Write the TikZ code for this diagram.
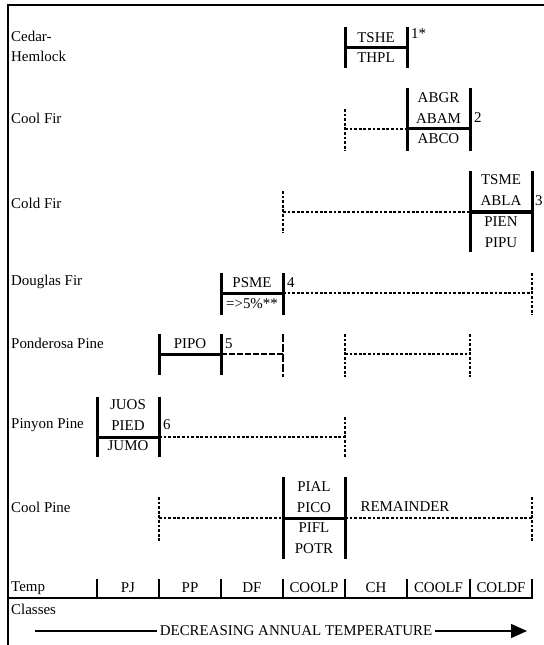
\documentclass[tikz,border=0pt]{standalone}
\usepackage{fontspec}
\setmainfont{Liberation Serif}
\usetikzlibrary{arrows.meta, positioning}

\begin{document}
\begin{tikzpicture}[
        x=1bp, y=-1bp,
        font=\fontsize{15}{20.5}\selectfont,
        frame_line/.style = {line width=1.8bp},
        sp_bar/.style = {line width=3bp},
        sp_range/.style = {line width=2.8bp, dash pattern=on 2.8bp off 1.8bp},
        sp_dash/.style = {line width=2.8bp, dash pattern=on 6bp off 2bp},
        sp_dash_long/.style = {line width=2.8bp, dash pattern=on 8bp off 2bp},
        tick_line/.style = {line width=2.2bp},
        row_label/.style = {anchor=west, align=left, inner sep=0pt},
        code_text/.style = {align=center, inner sep=0pt},
        num_text/.style = {anchor=west, inner sep=0pt}
    ]
    \useasboundingbox (0,0) rectangle (544,645);

    % Frame
    \coordinate (frame_bottom) at (8,645);
    \coordinate (frame_corner) at (8,5);
    \coordinate (frame_right) at (544,5);
    \draw [frame_line] (frame_bottom) -- (frame_corner) -- (frame_right);

    % Cedar-Hemlock
    \node [row_label] (ch_label) at (11,46.5) {Cedar-\\Hemlock};
    \node [code_text] (ch_codes) at (376,47.5) {TSHE\\THPL};
    \draw [sp_bar] (345,27) -- (345,68);
    \draw [sp_bar] (407,27) -- (407,68);
    \draw [sp_bar] (345,48) -- (407,48);
    \node [num_text] (ch_num) at (411,34) {1*};

    % Cool Fir
    \node [row_label] (cf_label) at (11,118) {Cool Fir};
    \node [code_text] (cf_codes) at (438.5,118.5) {ABGR\\ABAM\\ABCO};
    \draw [sp_bar] (407,88) -- (407,151);
    \draw [sp_bar] (470,88) -- (470,151);
    \draw [sp_bar] (407,129) -- (470,129);
    \draw [sp_range] (345,109) -- (345,151);
    \draw [sp_range] (345,129) -- (407,129);
    \node [num_text] (cf_num) at (474,118) {2};

    % Cold Fir
    \node [row_label] (cdf_label) at (11,203) {Cold Fir};
    \node [code_text, font=\fontsize{15}{21}\selectfont] (cdf_codes) at (501,211) {TSME\\ABLA\\PIEN\\PIPU};
    \draw [sp_bar] (470,171) -- (470,252);
    \draw [sp_bar] (532,171) -- (532,252);
    \draw [sp_bar, line width=3.6bp] (470,212) -- (533,212);
    \draw [sp_range] (283,191) -- (283,233);
    \draw [sp_range] (283,212) -- (470,212);
    \node [num_text] (cdf_num) at (535,201) {3};

    % Douglas Fir
    \node [row_label] (df_label) at (11,282) {Douglas Fir};
    \node [code_text] (df_code) at (252,283) {PSME};
    \node [code_text] (df_share) at (252,304) {=>5\%**};
    \draw [sp_bar] (221,273) -- (221,315);
    \draw [sp_bar] (283,273) -- (283,315);
    \draw [sp_bar] (221,293) -- (283,293);
    \draw [sp_range] (283,293) -- (532,293);
    \draw [sp_range] (532,273) -- (532,315);
    \node [num_text] (df_num) at (287,283) {4};

    % Ponderosa Pine
    \node [row_label] (pp_label) at (11,343) {Ponderosa Pine};
    \node [code_text] (pp_code) at (190,344) {PIPO};
    \draw [sp_bar] (159,334) -- (159,375);
    \draw [sp_bar] (221,334) -- (221,375);
    \draw [sp_bar] (159,354) -- (221,354);
    \draw [sp_dash] (221,354) -- (283,354);
    \draw [sp_dash_long] (283,334) -- (283,377);
    \draw [sp_range] (345,334) -- (345,377);
    \draw [sp_range] (470,334) -- (470,377);
    \draw [sp_range] (345,354) -- (470,354);
    \node [num_text] (pp_num) at (225,344) {5};

    % Pinyon Pine
    \node [row_label] (pj_label) at (11,425) {Pinyon Pine};
    \node [code_text] (pj_codes) at (128,425.5) {JUOS\\PIED\\JUMO};
    \draw [sp_bar] (97,397) -- (97,457);
    \draw [sp_bar] (159,397) -- (159,457);
    \draw [sp_bar] (97,437) -- (159,437);
    \draw [sp_range] (159,437) -- (345,437);
    \draw [sp_range] (345,417) -- (345,457);
    \node [num_text] (pj_num) at (163,425) {6};

    % Cool Pine
    \node [row_label] (cp_label) at (11,507) {Cool Pine};
    \node [code_text] (cp_codes) at (314,517.5) {PIAL\\PICO\\PIFL\\POTR};
    \draw [sp_bar] (283,477) -- (283,559);
    \draw [sp_bar] (345,477) -- (345,559);
    \draw [sp_bar] (283,518) -- (345,518);
    \draw [sp_range] (159,518) -- (283,518);
    \draw [sp_range] (159,497) -- (159,542);
    \draw [sp_range] (345,518) -- (532,518);
    \draw [sp_range] (532,497) -- (532,542);
    \node [code_text] (cp_rest) at (405,507) {REMAINDER};

    % Temperature classes
    \node [row_label] (temp_label) at (11,588) {Temp};
    \node [row_label] (classes_label) at (11,609) {Classes};
    \draw [tick_line] (8,598) -- (533,598);
    \draw [tick_line] (97,579) -- (97,598);
    \draw [tick_line] (159,579) -- (159,598);
    \draw [tick_line] (221,579) -- (221,598);
    \draw [tick_line] (283,579) -- (283,598);
    \draw [tick_line] (345,579) -- (345,598);
    \draw [tick_line] (407,579) -- (407,598);
    \draw [tick_line] (470,579) -- (470,598);
    \draw [tick_line] (532,579) -- (532,598);
    \node [code_text] (class_pj) at (128,588) {PJ};
    \node [code_text] (class_pp) at (190,588) {PP};
    \node [code_text] (class_df) at (252,588) {DF};
    \node [code_text] (class_coolp) at (314,588) {COOLP};
    \node [code_text] (class_ch) at (376,588) {CH};
    \node [code_text] (class_coolf) at (438.5,588) {COOLF};
    \node [code_text] (class_coldf) at (501,588) {COLDF};

    % Temperature arrow
    \node [inner sep=2.5bp] (arrow_text) at (296,631) {DECREASING ANNUAL TEMPERATURE};
    \coordinate (arrow_start) at (35,631);
    \coordinate (arrow_end) at (527,631);
    \draw [line width=1.5bp] (arrow_start) -- (arrow_text.west);
    \draw [line width=1.5bp, -{Triangle[length=16bp, width=14bp]}] (arrow_text.east) -- (arrow_end);

\end{tikzpicture}
\end{document}
